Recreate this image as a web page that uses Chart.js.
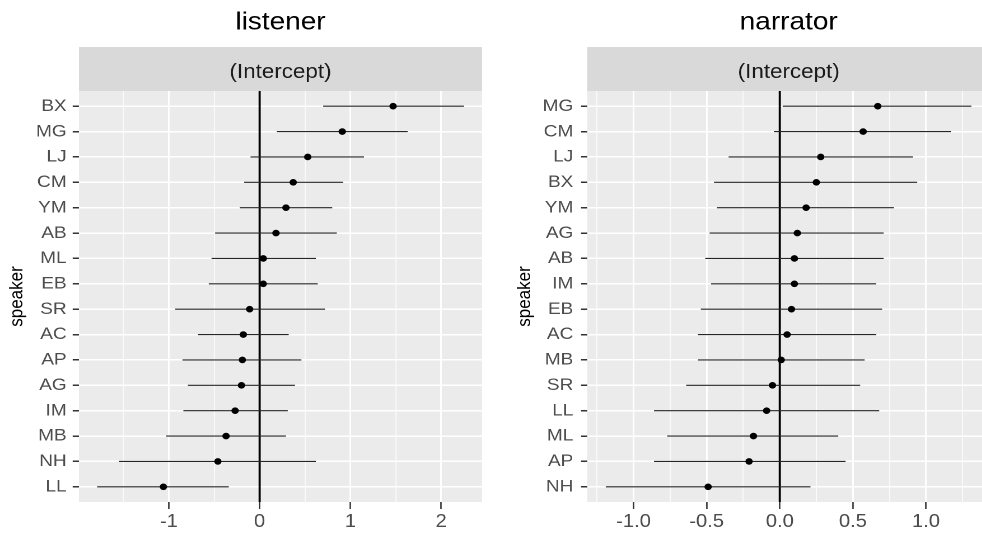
<!DOCTYPE html>
<html><head><meta charset="utf-8">
<script src="https://cdn.jsdelivr.net/npm/chart.js@4"></script>
<style>
html,body{margin:0;padding:0;background:#fff;overflow:hidden;width:982px;height:534px;position:relative;}
.panel{position:absolute;top:0;transform-origin:0 0;transform:scaleX(1.12);}
</style></head><body>
<canvas id="c1" class="panel" width="438" height="534" style="left:0px;width:438px;height:534px"></canvas>
<canvas id="c2" class="panel" width="454" height="534" style="left:491px;width:454px;height:534px"></canvas>
<script>
// ---- data (top row first) ----
const panelTitles = ['listener', 'narrator'];
const stripLabel = '(Intercept)';
const yAxisTitle = 'speaker';

const listenerSpeakers = ['BX','MG','LJ','CM','YM','AB','ML','EB','SR','AC','AP','AG','IM','MB','NH','LL'];
const listenerEst = [1.47,0.91,0.53,0.37,0.29,0.18,0.04,0.04,-0.11,-0.18,-0.19,-0.20,-0.27,-0.37,-0.46,-1.06];
const listenerLo  = [0.70,0.19,-0.10,-0.17,-0.22,-0.49,-0.53,-0.56,-0.93,-0.68,-0.85,-0.79,-0.84,-1.03,-1.55,-1.79];
const listenerHi  = [2.25,1.63,1.15,0.92,0.80,0.85,0.62,0.64,0.72,0.32,0.46,0.39,0.31,0.29,0.62,-0.34];

const narratorSpeakers = ['MG','CM','LJ','BX','YM','AG','AB','IM','EB','AC','MB','SR','LL','ML','AP','NH'];
const narratorEst = [0.67,0.57,0.28,0.25,0.18,0.12,0.10,0.10,0.08,0.05,0.01,-0.05,-0.09,-0.18,-0.21,-0.49];
const narratorLo  = [0.02,-0.04,-0.35,-0.45,-0.43,-0.48,-0.51,-0.47,-0.54,-0.56,-0.56,-0.64,-0.86,-0.77,-0.86,-1.19];
const narratorHi  = [1.31,1.17,0.91,0.94,0.78,0.71,0.71,0.66,0.70,0.66,0.58,0.55,0.68,0.40,0.45,0.21];

const listenerMajorTicks = [-1, 0, 1, 2];
const listenerMinorTicks = [-1.5, -0.5, 0.5, 1.5];
const narratorMajorTicks = [-1.0, -0.5, 0.0, 0.5, 1.0];
const narratorMinorTicks = [-1.25, -0.75, -0.25, 0.25, 0.75, 1.25];

const FONT = "'Liberation Sans', Arial, Helvetica, sans-serif";

const panelDeco = {
  id: 'panelDeco',
  beforeDraw(chart, args, opts) {
    const {ctx, chartArea: a} = chart;
    ctx.save();
    ctx.fillStyle = '#ffffff';
    ctx.fillRect(0, 0, chart.width, chart.height);
    ctx.fillStyle = '#EBEBEB';
    ctx.fillRect(a.left, a.top, a.right - a.left, a.bottom - a.top);
    ctx.fillStyle = '#D9D9D9';
    ctx.fillRect(a.left, a.top - 44, a.right - a.left, 44);
    ctx.fillStyle = '#1A1A1A';
    ctx.font = '20px ' + FONT;
    ctx.textAlign = 'center';
    ctx.textBaseline = 'alphabetic';
    ctx.fillText(opts.strip, (a.left + a.right) / 2, a.top - 13);
    ctx.fillStyle = '#000000';
    ctx.font = '25px ' + FONT;
    ctx.fillText(opts.title, (a.left + a.right) / 2, 29.5);
    ctx.restore();
  }
};

function makePanel(id, title, speakers, est, lo, hi, xMin, xMax, majors, minors, fmt, plotLeft, padRight, yTitlePad, yTickPad) {
  const datasets = [];
  datasets.push({
    data: est.map((v, i) => ({x: v, y: i})),
    pointRadius: 3.3, pointBackgroundColor: '#000', pointBorderWidth: 0, showLine: false
  });
  speakers.forEach((s, i) => {
    datasets.push({
      data: [{x: lo[i], y: i}, {x: hi[i], y: i}],
      showLine: true, borderColor: '#262626', borderWidth: 1.1, pointRadius: 0
    });
  });
  datasets.push({
    data: [{x: 0, y: -0.6}, {x: 0, y: speakers.length - 0.4}],
    showLine: true, borderColor: '#000', borderWidth: 1.9, pointRadius: 0
  });
  const allTicks = majors.concat(minors).sort((a, b) => a - b);
  return new Chart(document.getElementById(id), {
    type: 'scatter',
    data: {datasets},
    options: {
      responsive: false, animation: false, events: [], devicePixelRatio: 2,
      layout: {padding: {top: 91, left: 0, right: padRight, bottom: 0}},
      plugins: {legend: {display: false}, tooltip: {enabled: false},
                panelDeco: {title, strip: stripLabel}},
      scales: {
        x: {
          type: 'linear', min: xMin, max: xMax,
          afterBuildTicks: s => { s.ticks = allTicks.map(v => ({value: v})); },
          afterFit: s => { s.height = 32; },
          ticks: {autoSkip: false, maxRotation: 0, padding: 2, color: '#4D4D4D',
                  font: {family: FONT, size: 18},
                  callback: v => majors.includes(v) ? fmt(v) : ''},
          grid: {color: '#ffffff',
                 lineWidth: c => (c.tick && majors.includes(c.tick.value)) ? 1.45 : 0.75,
                 tickColor: c => (c.tick && majors.includes(c.tick.value)) ? '#333333' : 'rgba(0,0,0,0)',
                 tickLength: 7, tickWidth: 1.3},
          border: {display: false}
        },
        y: {
          type: 'linear', reverse: true, min: -0.6, max: speakers.length - 0.4,
          afterBuildTicks: s => { s.ticks = speakers.map((_, i) => ({value: i})); },
          afterFit: s => { s.width = plotLeft; },
          ticks: {autoSkip: false, padding: yTickPad, color: '#4D4D4D',
                  font: {family: FONT, size: 17},
                  callback: v => speakers[v]},
          grid: {color: '#ffffff', lineWidth: 1.5, tickColor: '#333333', tickLength: 5.6, tickWidth: 1.5},
          border: {display: false},
          title: {display: true, text: yAxisTitle, color: '#000', font: {family: FONT, size: 17},
                  padding: {top: yTitlePad, bottom: 0}}
        }
      }
    },
    plugins: [panelDeco]
  });
}

makePanel('c1', panelTitles[0], listenerSpeakers, listenerEst, listenerLo, listenerHi,
  -1.99, 2.45, listenerMajorTicks, listenerMinorTicks, v => String(v),
  70.5, 7.6, 5, 5.4);
makePanel('c2', panelTitles[1], narratorSpeakers, narratorEst, narratorLo, narratorHi,
  -1.316, 1.438, narratorMajorTicks, narratorMinorTicks, v => v.toFixed(1),
  86, 8.4, 20, 6.9);
</script>
</body></html>
